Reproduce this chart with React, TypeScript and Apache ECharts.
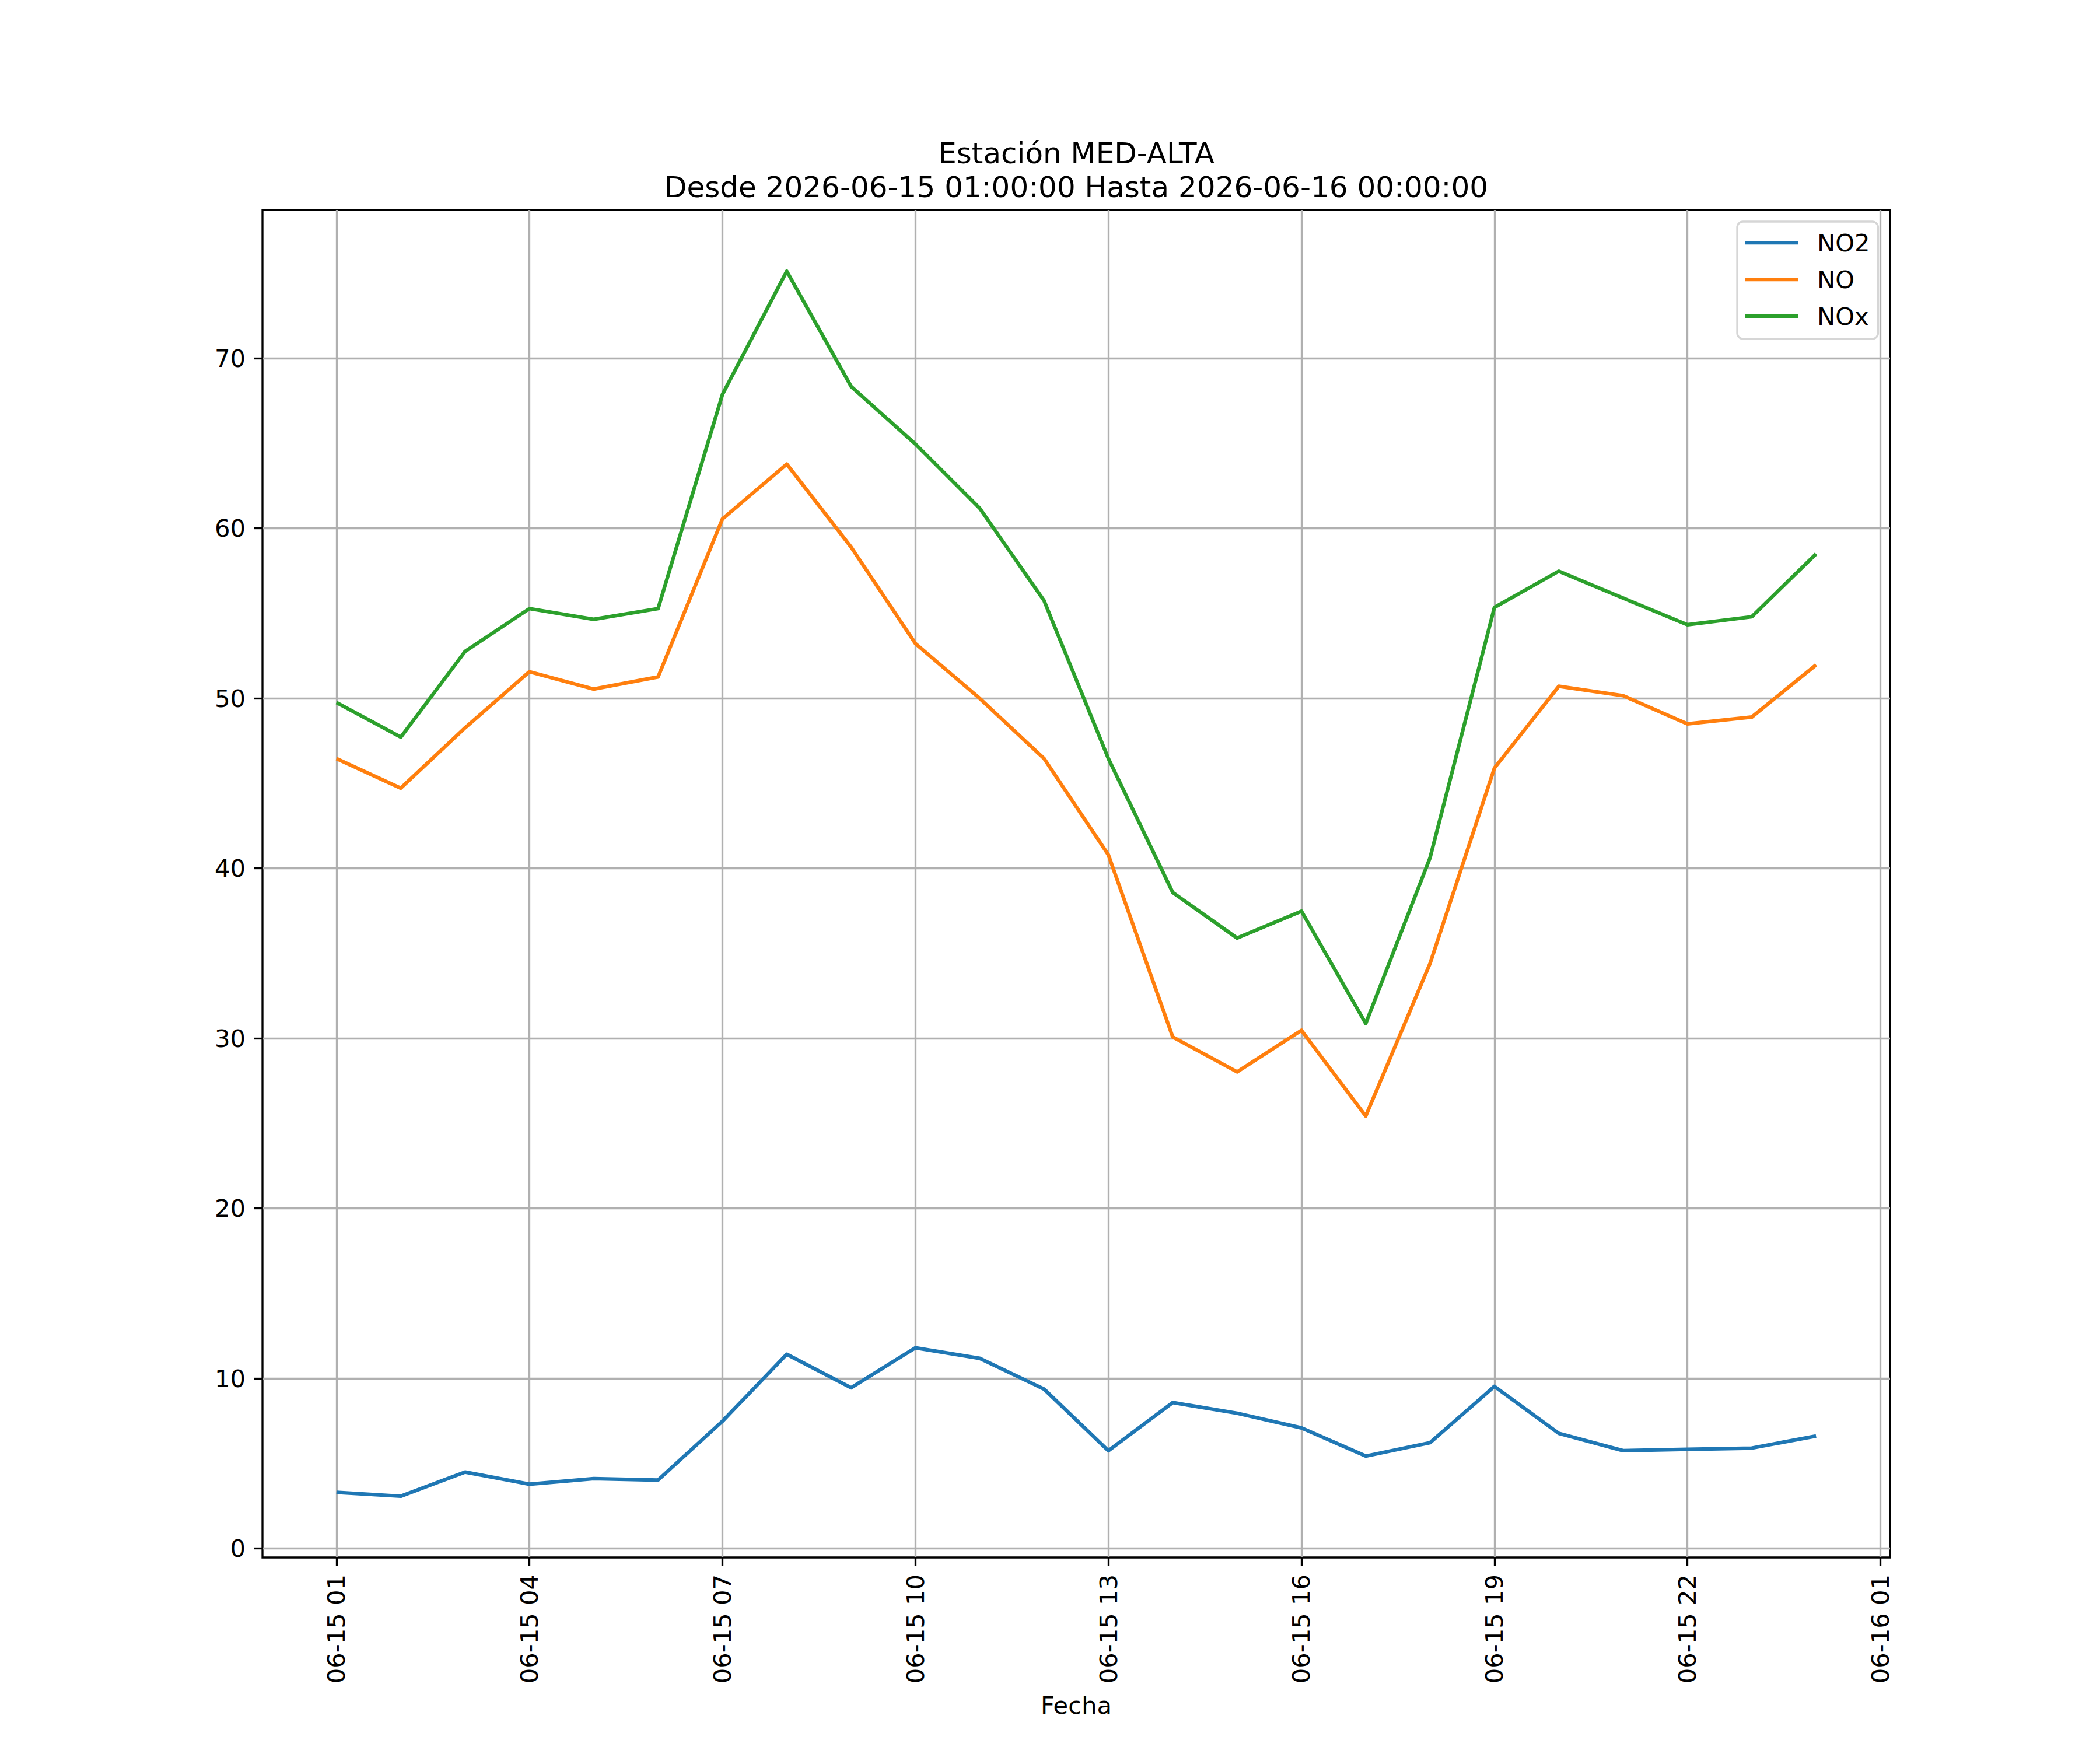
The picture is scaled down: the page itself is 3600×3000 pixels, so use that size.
import { useEffect, useRef } from 'react';
import * as echarts from 'echarts';

const times = [
  '2026-06-15 01:00', '2026-06-15 02:00', '2026-06-15 03:00', '2026-06-15 04:00',
  '2026-06-15 05:00', '2026-06-15 06:00', '2026-06-15 07:00', '2026-06-15 08:00',
  '2026-06-15 09:00', '2026-06-15 10:00', '2026-06-15 11:00', '2026-06-15 12:00',
  '2026-06-15 13:00', '2026-06-15 14:00', '2026-06-15 15:00', '2026-06-15 16:00',
  '2026-06-15 17:00', '2026-06-15 18:00', '2026-06-15 19:00', '2026-06-15 20:00',
  '2026-06-15 21:00', '2026-06-15 22:00', '2026-06-15 23:00', '2026-06-16 00:00',
];

const no2 = [3.3, 3.07, 4.49, 3.78, 4.1, 4.02, 7.48, 11.42, 9.45, 11.8, 11.18, 9.37,
  5.75, 8.58, 7.95, 7.09, 5.43, 6.22, 9.53, 6.77, 5.75, 5.83, 5.9, 6.61];
const no = [46.46, 44.72, 48.27, 51.57, 50.55, 51.26, 60.55, 63.78, 58.9, 53.23, 50.0, 46.46,
  40.79, 30.08, 28.03, 30.47, 25.43, 34.41, 45.9, 50.71, 50.16, 48.5, 48.9, 51.97];
const nox = [49.76, 47.72, 52.76, 55.28, 54.65, 55.28, 67.87, 75.12, 68.35, 64.96, 61.18, 55.75,
  46.46, 38.58, 35.9, 37.48, 30.87, 40.63, 55.35, 57.48, 55.9, 54.33, 54.8, 58.5];

const xTicks = [
  '2026-06-15 01:00', '2026-06-15 04:00', '2026-06-15 07:00', '2026-06-15 10:00',
  '2026-06-15 13:00', '2026-06-15 16:00', '2026-06-15 19:00', '2026-06-15 22:00',
  '2026-06-16 01:00',
];
const yTicks = [0, 10, 20, 30, 40, 50, 60, 70];

const FONT = 'DejaVu Sans';
const PT = 300 / 72;

// hours since 2026-06-15 00:00
function hoursOf(s: string) {
  const day = Number(s.slice(8, 10));
  const hour = Number(s.slice(11, 13));
  return (day - 15) * 24 + hour;
}

function tickLabel(s: string) {
  return `${s.slice(5, 10)} ${s.slice(11, 13)}`;
}

function padded(values: number[]) {
  const lo = Math.min(...values);
  const hi = Math.max(...values);
  const m = (hi - lo) * 0.05;
  return [lo - m, hi + m];
}

export default function App() {
  const ref = useRef<HTMLDivElement>(null);

  useEffect(() => {
    document.body.style.margin = '0';
    if (!ref.current) {
      return undefined;
    }

    const chart = echarts.init(ref.current, undefined, { renderer: 'svg' });
    const xs = times.map(hoursOf);
    const [xMin, xMax] = padded(xs);
    const [yMin, yMax] = padded([...no2, ...no, ...nox]);
    const xTickValues = xTicks.map(hoursOf);

    const lineSeries = (name: string, values: number[], color: string) => ({
      name,
      type: 'line' as const,
      data: xs.map((x, i) => [x, values[i]]),
      symbol: 'none',
      showSymbol: false,
      lineStyle: { width: 1.5 * PT, color, join: 'round' as const },
      itemStyle: { color },
    });

    const option: echarts.EChartsOption = {
      animation: false,
      backgroundColor: '#fff',
      textStyle: { fontFamily: FONT },
      graphic: [
        {
          type: 'text',
          x: 1845,
          y: 263,
          style: {
            text: 'Estación MED-ALTA',
            font: `${12 * PT}px "${FONT}"`,
            fill: '#000',
            align: 'center',
            verticalAlign: 'middle',
          },
        },
        {
          type: 'text',
          x: 1845,
          y: 321,
          style: {
            text: 'Desde 2026-06-15 01:00:00 Hasta 2026-06-16 00:00:00',
            font: `${12 * PT}px "${FONT}"`,
            fill: '#000',
            align: 'center',
            verticalAlign: 'middle',
          },
        },
      ],
      legend: {
        data: ['NO2', 'NO', 'NOx'],
        orient: 'vertical',
        left: 2978,
        top: 380,
        icon: 'rect',
        itemWidth: 90,
        itemHeight: 1.5 * PT,
        itemGap: 21,
        padding: [15, 14, 18, 14],
        borderColor: '#d6d6d6',
        borderWidth: 0.8 * PT,
        borderRadius: 10,
        backgroundColor: 'rgba(255,255,255,0.8)',
        selectedMode: false,
        textStyle: { fontSize: 10 * PT, fontFamily: FONT, color: '#000', padding: [0, 0, 0, 28] },
      },
      grid: {
        left: 450,
        right: 360,
        top: 360,
        bottom: 330,
        show: true,
        borderColor: '#000',
        borderWidth: 0.8 * PT,
        backgroundColor: 'transparent',
      },
      xAxis: {
        type: 'value',
        min: xMin,
        max: xMax,
        name: 'Fecha',
        nameLocation: 'middle',
        nameGap: 232,
        nameTextStyle: { fontSize: 10 * PT, fontFamily: FONT, color: '#000', verticalAlign: 'top' },
        axisLine: { show: false, onZero: false },
        axisTick: {
          show: true,
          length: 3.5 * PT,
          lineStyle: { color: '#000', width: 0.8 * PT },
          customValues: xTickValues,
        },
        axisLabel: {
          rotate: 90,
          margin: 29,
          fontSize: 10 * PT,
          fontFamily: FONT,
          color: '#000',
          customValues: xTickValues,
          formatter: (v: number) => {
            const i = xTickValues.indexOf(v);
            return i >= 0 ? tickLabel(xTicks[i]) : '';
          },
        },
        splitLine: { show: true, lineStyle: { color: '#b0b0b0', width: 0.8 * PT } },
      },
      yAxis: {
        type: 'value',
        min: yMin,
        max: yMax,
        axisLine: { show: false, onZero: false },
        axisTick: {
          show: true,
          length: 3.5 * PT,
          lineStyle: { color: '#000', width: 0.8 * PT },
          customValues: yTicks,
        },
        axisLabel: {
          margin: 29,
          fontSize: 10 * PT,
          fontFamily: FONT,
          color: '#000',
          customValues: yTicks,
          formatter: (v: number) => String(v),
        },
        splitLine: { show: true, lineStyle: { color: '#b0b0b0', width: 0.8 * PT } },
      },
      series: [
        lineSeries('NO2', no2, '#1f77b4'),
        lineSeries('NO', no, '#ff7f0e'),
        lineSeries('NOx', nox, '#2ca02c'),
      ],
    };

    chart.setOption(option);
    const resize = () => chart.resize();
    window.addEventListener('resize', resize);

    return () => {
      window.removeEventListener('resize', resize);
      chart.dispose();
    };
  }, []);

  return <div ref={ref} style={{ width: 3600, height: 3000 }} />;
}
